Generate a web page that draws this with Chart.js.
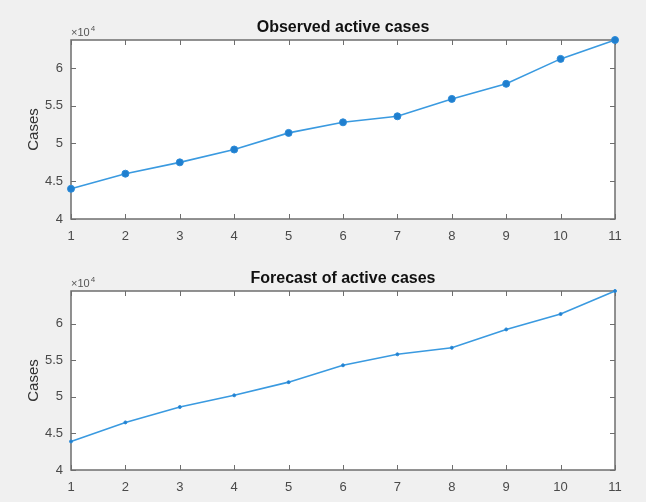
<!DOCTYPE html>
<html>
<head>
<meta charset="utf-8">
<script src="https://cdn.jsdelivr.net/npm/chart.js@4.4.0/dist/chart.umd.min.js"></script>
<style>
    html, body { margin: 0; padding: 0; background: #f0f0f0; }
    .wrap { position: relative; width: 646px; height: 251px; }
    canvas { display: block; }
</style>
</head>
<body>
<div class="wrap"><canvas id="observedChart" width="646" height="251"></canvas></div>
<div class="wrap"><canvas id="forecastChart" width="646" height="251"></canvas></div>
<script>
// x positions (days)
const days = ['1', '2', '3', '4', '5', '6', '7', '8', '9', '10', '11'];
// observed active cases
const observedCases = [44000, 46000, 47500, 49200, 51400, 52800, 53600, 55900, 57900, 61200, 63700];
// forecast of active cases
const forecastCases = [43900, 46500, 48600, 50200, 52000, 54300, 55800, 56700, 59200, 61300, 64450];
// y tick values (shown as multiples of 10^4)
const yTicks = [40000, 45000, 50000, 55000, 60000];

// MATLAB-like axes: white box, inward ticks on all sides, title and x10^4 marker
const matlabAxes = {
    id: 'matlabAxes',
    beforeDraw(chart) {
        const ctx = chart.ctx;
        const a = chart.chartArea;
        ctx.save();
        ctx.fillStyle = '#f0f0f0';
        ctx.fillRect(0, 0, chart.width, chart.height);
        ctx.fillStyle = '#ffffff';
        ctx.fillRect(a.left, a.top, a.right - a.left, a.bottom - a.top);
        ctx.restore();
    },
    beforeDatasetsDraw(chart) {
        const ctx = chart.ctx;
        const a = chart.chartArea;
        const xs = chart.scales.x;
        const ys = chart.scales.y;
        ctx.save();
        ctx.strokeStyle = '#6e6e6e';
        ctx.lineWidth = 1;
        ctx.beginPath();
        xs.ticks.forEach((t, i) => {
            const px = Math.round(xs.getPixelForTick(i)) + 0.5;
            ctx.moveTo(px, a.bottom); ctx.lineTo(px, a.bottom - 5);
            ctx.moveTo(px, a.top); ctx.lineTo(px, a.top + 5);
        });
        ys.ticks.forEach(t => {
            const py = Math.round(ys.getPixelForValue(t.value)) + 0.5;
            ctx.moveTo(a.left, py); ctx.lineTo(a.left + 5, py);
            ctx.moveTo(a.right, py); ctx.lineTo(a.right - 5, py);
        });
        ctx.stroke();
        ctx.lineWidth = 1.5;
        ctx.strokeRect(a.left, a.top, a.right - a.left, a.bottom - a.top);

        // title
        ctx.fillStyle = '#111111';
        ctx.font = 'bold 16px "Liberation Sans", Arial, sans-serif';
        ctx.textAlign = 'center';
        ctx.textBaseline = 'middle';
        ctx.fillText(chart.options.plugins.matlabAxes.title, (a.left + a.right) / 2, a.top - 12);

        // exponent marker
        ctx.fillStyle = '#555555';
        ctx.textAlign = 'left';
        ctx.textBaseline = 'alphabetic';
        ctx.font = '11px "Liberation Sans", Arial, sans-serif';
        ctx.fillText('\u00d710', a.left, a.top - 4);
        const w = ctx.measureText('\u00d710').width;
        ctx.font = '8px "Liberation Sans", Arial, sans-serif';
        ctx.fillText('4', a.left + w + 1, a.top - 9);
        ctx.restore();
    }
};

function createCasesChart(canvasId, values, yMax, title, markerRadius) {
    const ctx = document.getElementById(canvasId).getContext('2d');
    return new Chart(ctx, {
        type: 'line',
        data: {
            labels: days,
            datasets: [{
                data: values,
                borderColor: '#3a9ae0',
                borderWidth: 1.6,
                pointRadius: markerRadius,
                pointBackgroundColor: '#1f7fcf',
                pointBorderColor: '#2d8bd8',
                pointBorderWidth: 1,
                tension: 0,
                clip: false
            }]
        },
        options: {
            responsive: false,
            animation: false,
            layout: {
                padding: { left: 0, right: 31, top: 40, bottom: 0 }
            },
            plugins: {
                legend: { display: false },
                tooltip: { enabled: false },
                matlabAxes: { title: title }
            },
            scales: {
                x: {
                    offset: false,
                    grid: { display: false, drawTicks: false },
                    border: { display: false },
                    ticks: {
                        padding: 10,
                        maxRotation: 0,
                        color: '#4a4a4a',
                        font: { size: 13, family: '"Liberation Sans", Arial, sans-serif' }
                    },
                    afterFit: function (scale) { scale.height = 32; }
                },
                y: {
                    min: 40000,
                    max: yMax,
                    grid: { display: false, drawTicks: false },
                    border: { display: false },
                    afterBuildTicks: function (scale) {
                        scale.ticks = yTicks.filter(v => v <= yMax).map(v => ({ value: v }));
                    },
                    ticks: {
                        padding: 8,
                        color: '#4a4a4a',
                        font: { size: 13, family: '"Liberation Sans", Arial, sans-serif' },
                        callback: function (value) { return String(value / 10000); }
                    },
                    title: {
                        display: true,
                        text: 'Cases',
                        color: '#333333',
                        padding: { top: 25, bottom: 0 },
                        font: { size: 15, family: '"Liberation Sans", Arial, sans-serif' }
                    },
                    afterFit: function (scale) { scale.width = 71; }
                }
            }
        },
        plugins: [matlabAxes]
    });
}

createCasesChart('observedChart', observedCases, 63700, 'Observed active cases', 3.5);
createCasesChart('forecastChart', forecastCases, 64450, 'Forecast of active cases', 1.5);
</script>
</body>
</html>
